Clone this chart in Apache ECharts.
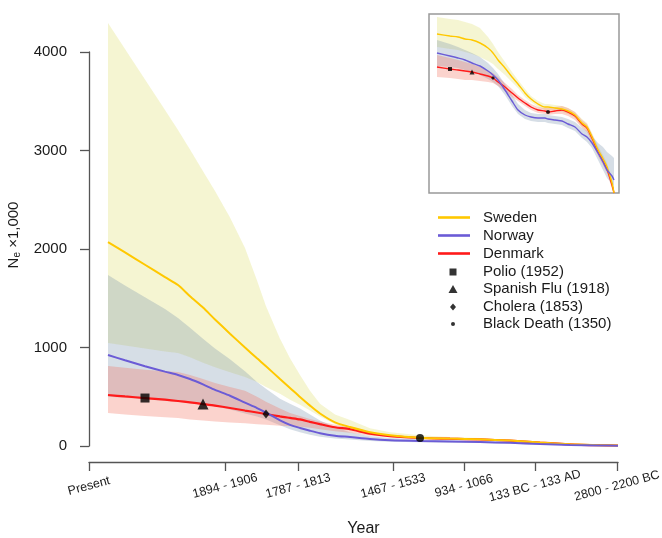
<!DOCTYPE html>
<html>
<head>
<meta charset="utf-8">
<script src="https://cdn.jsdelivr.net/npm/echarts@6/dist/echarts.min.js"></script>
<style>
  html, body { margin: 0; padding: 0; background: #fff; }
  #chart { width: 662px; height: 538px; }
</style>
</head>
<body>
<div id="chart"></div>
<script>
// main plot: x = position along the time axis (0 = Present), y = Ne x1,000
const tickPos = [0, 136, 209, 304, 375, 446, 528]
const tickLabels = ['Present', '1894 - 1906', '1787 - 1813', '1467 - 1533', '934 - 1066', '133 BC - 133 AD', '2800 - 2200 BC']

const mainX = [19, 36, 56, 76, 89, 101, 114, 126, 141, 156, 168, 177, 191, 201, 211, 221, 231, 246, 261, 281, 301, 331, 361, 391, 421, 451, 481, 511, 529]

const swedenMid = [2070, 1965, 1840, 1715, 1634, 1520, 1405, 1285, 1140, 1000, 890, 810, 680, 590, 497, 410, 330, 240, 193, 140, 110, 85, 75, 68, 55, 35, 18, 8, 5]
const swedenHi = [4295, 4031, 3720, 3410, 3208, 3010, 2790, 2590, 2320, 2010, 1680, 1420, 1090, 890, 720, 560, 430, 320, 264, 180, 140, 110, 92, 80, 64, 42, 22, 10, 6]
const swedenLo = [1046, 1020, 990, 960, 944, 900, 845, 800, 750, 700, 650, 600, 530, 470, 420, 360, 300, 220, 165, 115, 90, 70, 62, 56, 46, 28, 14, 6, 4]

const norwayMid = [924, 870, 810, 755, 721, 680, 625, 570, 510, 440, 385, 340, 260, 215, 183, 155, 130, 105, 91, 70, 58, 50, 45, 40, 32, 20, 10, 5, 3]
const norwayHi = [1736, 1630, 1510, 1390, 1300, 1200, 1090, 990, 880, 760, 650, 580, 480, 430, 380, 320, 260, 190, 140, 100, 80, 65, 57, 50, 40, 26, 13, 6, 4]
const norwayLo = [500, 490, 475, 460, 450, 435, 420, 400, 370, 330, 300, 270, 210, 170, 140, 115, 95, 75, 65, 50, 42, 38, 34, 30, 24, 14, 7, 3, 2]

const denmarkMid = [518, 503, 487, 470, 457, 443, 426, 410, 386, 360, 340, 325, 300, 285, 270, 245, 222, 190, 170, 125, 100, 81, 74, 67, 54, 34, 17, 8, 5]
const denmarkHi = [812, 795, 775, 760, 751, 720, 680, 640, 600, 560, 500, 450, 380, 335, 305, 275, 250, 215, 190, 140, 112, 90, 80, 72, 58, 37, 19, 9, 6]
const denmarkLo = [335, 320, 305, 292, 284, 270, 258, 248, 238, 230, 222, 215, 205, 200, 195, 185, 170, 150, 135, 105, 88, 72, 68, 62, 50, 31, 15, 7, 4]

// epidemics on the Denmark curve
const eventNames = ['Polio (1952)', 'Spanish Flu (1918)', 'Cholera (1853)', 'Black Death (1350)']
const eventSymbols = ['rect', 'triangle', 'diamond', 'circle']
const eventX = [56, 114, 177, 331]
const eventY = [487, 426, 325, 81]

// inset (log scale view), arbitrary units
const insetX = [8, 21, 29, 36, 43, 51, 59, 64, 69, 76, 83, 89, 96, 102, 109, 116, 119, 126, 133, 139, 146, 153, 158, 163, 169, 174, 178, 183, 185]
const inSwedenMid = [159, 157, 156, 154, 153, 150, 145, 140, 133, 125, 116, 109, 100, 94, 89, 86, 86, 85, 84, 82, 78, 70, 66, 56, 43, 34, 26, 10, 0]
const inSwedenHi = [176, 174, 173, 171, 169, 165, 156, 149, 141, 131, 121, 113, 104, 97, 92, 89, 89, 88, 87, 85, 81, 74, 70, 60, 47, 38, 30, 15, 5]
const inSwedenLo = [146, 144, 143, 141, 139, 136, 132, 129, 124, 118, 111, 105, 96, 91, 86, 83, 83, 82, 81, 79, 75, 66, 62, 52, 39, 30, 22, 6, 0]
const inNorwayMid = [140, 137, 135, 133, 130, 127, 122, 118, 113, 103, 92, 83, 78, 76, 75, 75, 74, 73, 72, 69, 66, 59, 56, 50, 40, 31, 23, 17, 13]
const inNorwayHi = [153, 149, 146, 143, 140, 136, 130, 125, 119, 109, 98, 89, 83, 80, 79, 79, 78, 77, 76, 74, 71, 65, 62, 57, 50, 46, 41, 37, 35]
const inNorwayLo = [127, 126, 125, 123, 121, 118, 114, 111, 107, 98, 87, 79, 74, 72, 71, 71, 70, 69, 68, 65, 62, 55, 51, 45, 33, 23, 15, 9, 7]
const inDenmarkMid = [126, 124, 123, 122, 121, 119, 117, 115, 111, 106, 100, 95, 90, 86, 83, 82, 81, 82, 83, 81, 77, 69, 65, 55, 41, 32, 24, 8, 0]
const inDenmarkHi = [138, 135, 133, 131, 129, 126, 122, 120, 116, 110, 104, 98, 93, 89, 86, 85, 85, 86, 87, 85, 81, 73, 69, 59, 45, 36, 28, 12, 3]
const inDenmarkLo = [116, 115, 114, 113, 113, 112, 111, 110, 107, 102, 96, 92, 87, 83, 80, 79, 78, 79, 79, 77, 73, 65, 61, 51, 37, 28, 20, 4, 0]
const inEventX = [21, 43, 64, 119]
const inEventY = [124, 121, 115, 81]

const FONT = 'Liberation Sans, Arial, Helvetica, sans-serif'
const colors = { sweden: '#FFC800', norway: '#6B5BD6', denmark: '#FF1A1A' }
const bandColors = {
  sweden: 'rgba(228,228,130,0.36)',
  norway: 'rgba(120,145,172,0.30)',
  denmark: 'rgba(242,110,90,0.30)'
}

const pairs = (xs, ys) => xs.map((x, i) => [x, ys[i]])

// confidence band drawn as a polygon: upper edge forward, lower edge back
const band = (id, xs, lo, hi, color, axis) => ({
  name: id, type: 'custom', xAxisIndex: axis, yAxisIndex: axis, data: [0], silent: true,
  renderItem: (params, api) => {
    const top = xs.map((x, i) => api.coord([x, hi[i]]))
    const bot = xs.map((x, i) => api.coord([x, lo[i]])).reverse()
    return { type: 'polygon', shape: { points: top.concat(bot) }, style: { fill: color } }
  }
})

const line = (name, xs, ys, color, axis, width) => ({
  name, type: 'line', data: pairs(xs, ys), xAxisIndex: axis, yAxisIndex: axis,
  symbol: 'none', smooth: 0.25, lineStyle: { color, width }, itemStyle: { color },
  clip: false, silent: true
})

const markers = (names, xs, ys, axis, sizes) => names.map((n, i) => ({
  name: n, type: 'scatter', data: [[xs[i], ys[i]]], xAxisIndex: axis, yAxisIndex: axis,
  symbol: eventSymbols[i], symbolSize: sizes[i], itemStyle: { color: '#000' }, z: 5, silent: true
}))

const chart = echarts.init(document.getElementById('chart'))

const legendText = (pad) => ({ fontSize: 15, color: '#1a1a1a', fontFamily: FONT, padding: [0, 0, 0, pad] })

const option = {
  animation: false,
  textStyle: { fontFamily: FONT },
  grid: [
    { left: 89, right: 44, top: 52, bottom: 92, outerBoundsMode: 'none', containLabel: false },
    { left: 429, top: 14, width: 190, height: 179, outerBoundsMode: 'none', show: true, borderColor: '#999', borderWidth: 1.5, backgroundColor: 'transparent' }
  ],
  xAxis: [
    {
      type: 'value', gridIndex: 0, min: 0, max: 529, offset: 16,
      name: 'Year', nameLocation: 'middle', nameGap: 59,
      nameTextStyle: { fontSize: 16, color: '#1a1a1a', padding: [0, 0, 0, 20] },
      axisLine: { onZero: false, lineStyle: { color: '#555', width: 1.3 } },
      axisTick: { customValues: tickPos, length: 9, lineStyle: { color: '#555', width: 1.3 } },
      axisLabel: {
        customValues: tickPos, rotate: 15, align: 'center', verticalAlign: 'middle', margin: 24,
        fontSize: 12.5, color: '#1a1a1a',
        formatter: (v) => tickLabels[tickPos.indexOf(v)] || ''
      },
      splitLine: { show: false }
    },
    { type: 'value', gridIndex: 1, min: 0, max: 190, show: false }
  ],
  yAxis: [
    {
      type: 'value', gridIndex: 0, min: 0, max: 4000, interval: 1000,
      name: '{a|N}{b|e}{a| ×1,000}', nameLocation: 'middle', nameRotate: 90, nameGap: 52,
      nameTextStyle: {
        padding: [0, 0, 0, 28],
        rich: {
          a: { fontSize: 15, color: '#1a1a1a', lineHeight: 18, fontFamily: FONT },
          b: { fontSize: 10, color: '#1a1a1a', lineHeight: 10, verticalAlign: 'bottom', fontFamily: FONT }
        }
      },
      axisLine: { show: true, onZero: false, lineStyle: { color: '#555', width: 1.3 } },
      axisTick: { show: true, length: 9, lineStyle: { color: '#555', width: 1.3 } },
      axisLabel: { fontSize: 15, color: '#1a1a1a', margin: 22, formatter: (v) => String(v) },
      splitLine: { show: false }
    },
    { type: 'value', gridIndex: 1, min: 0, max: 179, show: false }
  ],
  legend: [
    {
      data: ['Sweden', 'Norway', 'Denmark'].map(n => ({ name: n, icon: 'rect' })),
      orient: 'vertical', left: 438, top: 210,
      padding: 0, itemWidth: 32, itemHeight: 2.6, itemGap: 3, selectedMode: false,
      textStyle: legendText(8)
    },
    { data: [eventNames[0]], left: 449.5, top: 264.5, padding: 0, itemWidth: 7, itemHeight: 7, selectedMode: false, textStyle: legendText(21.5) },
    { data: [eventNames[1]], left: 448.5, top: 281.5, padding: 0, itemWidth: 9, itemHeight: 8, selectedMode: false, textStyle: legendText(20.5) },
    { data: [eventNames[2]], left: 450, top: 299.5, padding: 0, itemWidth: 6, itemHeight: 7, selectedMode: false, textStyle: legendText(22) },
    { data: [eventNames[3]], left: 451, top: 316.5, padding: 0, itemWidth: 4, itemHeight: 4, selectedMode: false, textStyle: legendText(23) }
  ],
  series: [
    band('sw', mainX, swedenLo, swedenHi, bandColors.sweden, 0),
    band('no', mainX, norwayLo, norwayHi, bandColors.norway, 0),
    band('dk', mainX, denmarkLo, denmarkHi, bandColors.denmark, 0),
    line('Denmark', mainX, denmarkMid, colors.denmark, 0, 2.2),
    line('Sweden', mainX, swedenMid, colors.sweden, 0, 2),
    line('Norway', mainX, norwayMid, colors.norway, 0, 2),
    ...markers(eventNames, eventX, eventY, 0, [9, 11, [7, 9], 8]),

    band('isw', insetX, inSwedenLo, inSwedenHi, bandColors.sweden, 1),
    band('ino', insetX, inNorwayLo, inNorwayHi, bandColors.norway, 1),
    band('idk', insetX, inDenmarkLo, inDenmarkHi, bandColors.denmark, 1),
    line('in-dk', insetX, inDenmarkMid, colors.denmark, 1, 1.4),
    line('in-sw', insetX, inSwedenMid, colors.sweden, 1, 1.4),
    line('in-no', insetX, inNorwayMid, colors.norway, 1, 1.4),
    ...markers(eventNames.map(n => 'in-' + n), inEventX, inEventY, 1, [4, 5, 4, 4])
  ]
}

chart.setOption(option)
</script>
</body>
</html>
